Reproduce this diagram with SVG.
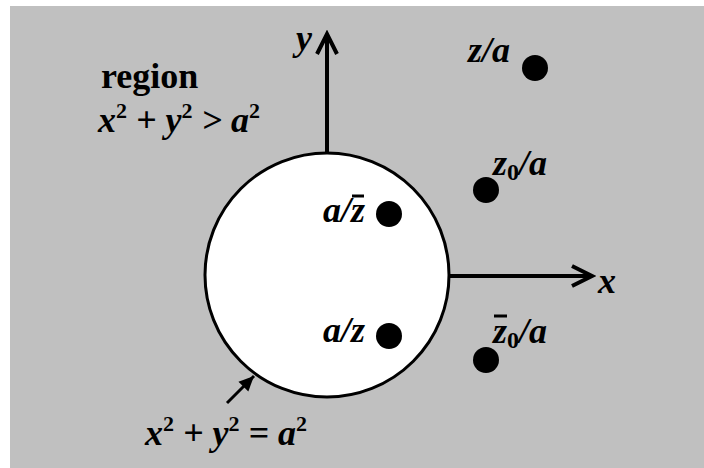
<svg xmlns="http://www.w3.org/2000/svg" width="704" height="468" viewBox="0 0 704 468">
<defs>
<style>
.t{font-family:"Liberation Serif","Times New Roman",serif;font-weight:bold;fill:#000}
.m{font-family:"Liberation Serif","Times New Roman",serif;font-weight:bold;font-style:italic;fill:#000}
.sup{font-size:22px;font-style:normal}
.ax{stroke:#000;stroke-width:4;fill:none}
.dot{fill:#000}
</style>
<marker id="chev" viewBox="-24 -14 28 28" markerWidth="28" markerHeight="28" refX="0" refY="0" orient="auto" markerUnits="userSpaceOnUse">
<path d="M-20,-10 L0,0 L-20,10" fill="none" stroke="#000" stroke-width="4"/>
</marker>
<marker id="tri" viewBox="-16 -8 18 16" markerWidth="18" markerHeight="16" refX="0" refY="0" orient="auto" markerUnits="userSpaceOnUse">
<path d="M-15,-7 L0,0 L-15,7 Z" fill="#000"/>
</marker>
</defs>
<rect x="10" y="6" width="694" height="462" fill="#c0c0c0"/>
<g id="circle">
<circle cx="327" cy="275" r="122" fill="#fff" stroke="#000" stroke-width="3"/>
</g>
<g id="connectors">
<line class="ax" x1="327" y1="153" x2="327" y2="34" marker-end="url(#chev)"/>
<line class="ax" x1="449" y1="276" x2="592" y2="276" marker-end="url(#chev)"/>
<line x1="227" y1="403" x2="254" y2="376" stroke="#000" stroke-width="3" marker-end="url(#tri)"/>
</g>
<g id="axis-labels">
<text class="m" x="296" y="50" font-size="36">y</text>
<text class="m" x="598" y="293" font-size="36">x</text>
</g>
<g id="region-label">
<text class="t" x="101" y="88" font-size="36">region</text>
<text class="m" x="98" y="132" font-size="36">x<tspan class="sup" dy="-14">2</tspan><tspan dy="14"> + y</tspan><tspan class="sup" dy="-14">2</tspan><tspan dy="14"> &gt; a</tspan><tspan class="sup" dy="-14">2</tspan></text>
</g>
<g id="boundary-label">
<text class="m" x="145" y="445" font-size="36">x<tspan class="sup" dy="-14">2</tspan><tspan dy="14"> + y</tspan><tspan class="sup" dy="-14">2</tspan><tspan dy="14"> = a</tspan><tspan class="sup" dy="-14">2</tspan></text>
</g>
<g id="pt-z-a">
<text class="m" x="468" y="62" font-size="36">z/a</text>
<circle class="dot" cx="535" cy="68" r="13"/>
</g>
<g id="pt-z0-a">
<text class="m" x="493" y="175" font-size="36">z<tspan font-size="24" font-style="normal" dy="5">0</tspan><tspan dy="-5">/a</tspan></text>
<circle class="dot" cx="486" cy="190" r="13"/>
</g>
<g id="pt-z0bar-a">
<text class="m" x="493" y="343" font-size="36">z<tspan font-size="24" font-style="normal" dy="5">0</tspan><tspan dy="-5">/a</tspan></text>
<line x1="494" y1="316" x2="507" y2="316" stroke="#000" stroke-width="3"/>
<circle class="dot" cx="486" cy="360" r="13"/>
</g>
<g id="pt-a-zbar">
<text class="m" x="323" y="222" font-size="36">a/z</text>
<line x1="352" y1="196" x2="364" y2="196" stroke="#000" stroke-width="3"/>
<circle class="dot" cx="389" cy="214" r="13"/>
</g>
<g id="pt-a-z">
<text class="m" x="323" y="342" font-size="36">a/z</text>
<circle class="dot" cx="389" cy="336" r="13"/>
</g>
</svg>
